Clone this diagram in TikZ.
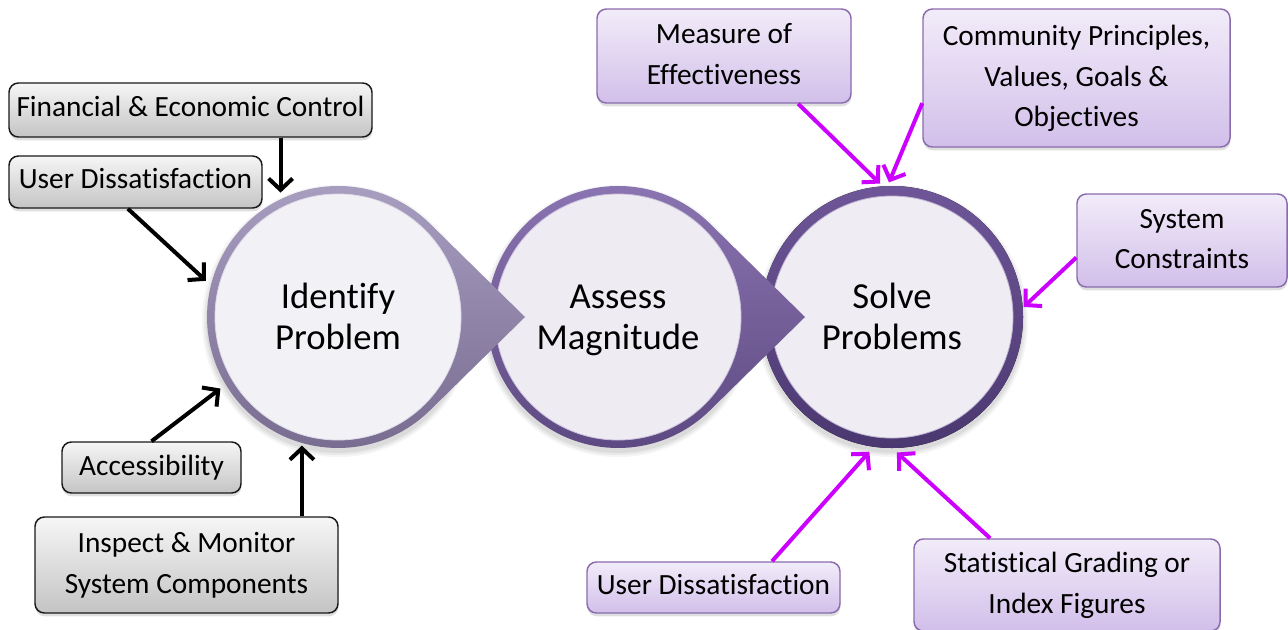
\documentclass[tikz,border=0pt]{standalone}
\usepackage{fontspec}
\setmainfont{Carlito}[Ligatures=NoCommon]
\usetikzlibrary{arrows.meta,calc,shadows}

\definecolor{ringAtop}{HTML}{AAA0C2}
\definecolor{ringAbot}{HTML}{766A8F}
\definecolor{ringBtop}{HTML}{8C76B3}
\definecolor{ringBbot}{HTML}{5C4880}
\definecolor{ringCtop}{HTML}{6E5698}
\definecolor{ringCbot}{HTML}{4B3870}
\definecolor{innerA}{HTML}{F2F1F5}
\definecolor{innerB}{HTML}{EEEBF2}
\definecolor{innerC}{HTML}{EFECF3}
\definecolor{greyTop}{HTML}{F6F6F6}
\definecolor{greyBot}{HTML}{C4C4C4}
\definecolor{lilacTop}{HTML}{F2ECF9}
\definecolor{lilacBot}{HTML}{D2BFEA}
\definecolor{lilacEdge}{HTML}{8A6CAE}
\definecolor{vivid}{HTML}{CC00FF}

\tikzset{
  teardrop/.pic={
    \path[pic actions] (187,0) -- (91.8,-93.5)
      arc[start angle=-45.53,end angle=-314.47,radius=131] -- cycle;
  },
  boxbase/.style={rectangle, rounded corners=7pt, line width=1.1pt,
    align=center, inner sep=0pt, text=black,
    font=\fontsize{22}{30.5}\selectfont,
    drop shadow={shadow xshift=0.3pt, shadow yshift=-2.5pt, opacity=0.25}},
  greybox/.style={boxbase, draw=black!90, top color=greyTop, bottom color=greyBot},
  lilacbox/.style={boxbase, draw=lilacEdge, top color=lilacTop, bottom color=lilacBot},
  oneline/.style={text depth=5pt},
  stage/.style={circle, minimum size=196.5pt, inner sep=0pt, outer sep=0pt},
  stagetext/.style={align=center, inner sep=0pt, font=\fontsize{27.5}{30.75}\selectfont},
  feed/.style={line width=3pt, black, -{Straight Barb[length=8.5pt,width=18pt]}},
  input/.style={feed, vivid},
}

\begin{document}
\begin{tikzpicture}[x=0.75pt,y=-0.75pt]
\useasboundingbox (0,0) rectangle (1288,629);

% soft shadows under the stage circles
\foreach \cx in {338,618,892}{
  \foreach \r/\o in {136/0.04,134/0.05,132/0.06}
    \fill[black,opacity=\o] (\cx,321) circle[radius=\r];
}

% stage 3: Solve Problems (plain ring)
\fill[top color=ringCtop, bottom color=ringCbot] (892,317) circle[radius=131];
\fill[innerC, draw=white!55!ringCtop, line width=0.6pt] (892,317) circle[radius=121];

% stage 2: Assess Magnitude (ring with pointer)
\pic[top color=ringBtop, bottom color=ringBbot] at (618,317) {teardrop};
\fill[innerB, draw=white!55!ringBtop, line width=0.6pt] (618,317) circle[radius=123];

% stage 1: Identify Problem (ring with pointer)
\pic[top color=ringAtop, bottom color=ringAbot] at (338,317) {teardrop};
\fill[innerA, draw=white!60!ringAtop, line width=0.6pt] (338,317) circle[radius=123];

% stage outlines used as connector targets, and their labels
\node[stage] (id)  at (338,317) {};
\node[stage] (am)  at (618,317) {};
\node[stage] (sol) at (892,317) {};
\node[stagetext] (idlbl)  at (338,321) {Identify\strut\\Problem\strut};
\node[stagetext] (amlbl)  at (618,321) {Assess\strut\\Magnitude\strut};
\node[stagetext] (sollbl) at (892,321) {Solve\strut\\Problems\strut};

% inputs to the first stage
\node[greybox, oneline, minimum width=272.25pt, minimum height=40.5pt] (fin) at (190.5,110) {Financial \& Economic Control};
\node[greybox, oneline, minimum width=189.75pt, minimum height=39pt] (ud1) at (135.5,182) {User Dissatisfaction};
\node[greybox, minimum width=134.25pt, minimum height=38.25pt] (acc) at (151.5,467.5) {Accessibility};
\node[greybox, minimum width=227.25pt, minimum height=72pt] (insp) at (186.5,565) {Inspect \& Monitor\strut\\System Components\strut};

% inputs to the last stage
\node[lilacbox, minimum width=190.5pt, minimum height=70.5pt] (moe) at (724,56) {Measure of\strut\\Effectiveness\strut};
\node[lilacbox, minimum width=230.25pt, minimum height=103.5pt] (cpv) at (1076.5,78) {Community Principles,\strut\\Values, Goals \&\strut\\Objectives\strut};
\node[lilacbox, minimum width=157.5pt, minimum height=69.75pt] (sc) at (1182,240.5) {System\strut\\Constraints\strut};
\node[lilacbox, oneline, minimum width=189.75pt, minimum height=38.25pt] (ud2) at (713.5,587.5) {User Dissatisfaction};
\node[lilacbox, minimum width=229.5pt, minimum height=69pt] (sg) at (1067,585) {Statistical Grading or\strut\\Index Figures\strut};

% black connectors
\draw[feed, shorten >=5pt] (id.116 |- fin.south) -- (id.116);
\draw[feed, shorten >=5pt] ($(ud1.south west)!0.47!(ud1.south east)$) -- (id.166);
\draw[feed, shorten >=5pt] (acc.north) -- (id.211);
\draw[feed, shorten >=2pt] (id.254 |- insp.north) -- (id.254);

% magenta connectors
\draw[input, shorten >=3pt] ($(moe.south west)!0.79!(moe.south east)$) -- (sol.94);
\draw[input, shorten >=3pt] ($(cpv.north west)!0.68!(cpv.south west)$) -- (sol.92);
\draw[input, shorten >=1pt] ($(sc.north west)!0.68!(sc.south west)$) -- (sol.4);
\draw[input, shorten >=5pt] ($(ud2.north west)!0.73!(ud2.north east)$) -- (sol.262);
\draw[input, shorten >=5pt] ($(sg.north west)!0.25!(sg.north east)$) -- (sol.270);
\end{tikzpicture}
\end{document}
